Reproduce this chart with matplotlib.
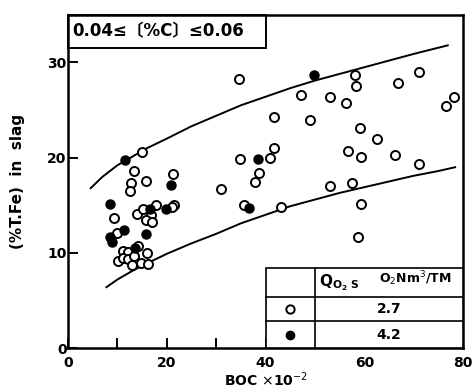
import numpy as np
import matplotlib.pyplot as plt
from matplotlib.patches import Rectangle

# open circles, Q = 2.7
open_x = [14.9, 13.3, 12.8, 12.6, 15.8, 21.3, 9.4, 13.9, 15.2, 17.9, 16.8, 15.8, 17.0,
          21.5, 21.0, 10.0, 11.1, 12.1, 14.1, 16.1, 10.1, 11.1, 12.2, 13.0, 14.7, 16.3, 13.3,
          34.6, 47.2, 53.0, 41.7, 49.1, 41.8, 40.9, 34.9, 38.6, 37.8, 30.9, 53.0, 35.6, 43.2,
          58.2, 58.3, 71.1, 66.9, 56.3, 78.1, 76.5, 59.1, 62.6, 56.8, 59.4, 66.2, 71.0,
          57.6, 59.4, 58.8]
open_y = [20.6, 18.6, 17.3, 16.5, 17.6, 18.3, 13.7, 14.1, 14.6, 15.0, 14.0, 13.5, 13.2,
          15.0, 14.8, 12.1, 10.2, 10.1, 10.7, 10.0, 9.2, 9.5, 9.4, 8.7, 8.9, 8.8, 9.7,
          28.3, 26.6, 26.4, 24.3, 24.0, 21.0, 20.0, 19.9, 18.4, 17.4, 16.7, 17.0, 15.0, 14.8,
          28.7, 27.5, 29.0, 27.8, 25.7, 26.4, 25.4, 23.1, 22.0, 20.7, 20.1, 20.3, 19.3,
          17.3, 15.1, 11.7]

# filled circles, Q = 4.2
fill_x = [11.5, 20.9, 8.6, 16.6, 19.9, 11.3, 8.5, 8.9, 15.9, 13.6, 49.8, 38.4, 36.6]
fill_y = [19.8, 17.1, 15.1, 14.6, 14.6, 12.4, 11.7, 11.1, 12.0, 10.5, 28.7, 19.9, 14.7]

# band limits
upper_x = [4.6, 7, 10, 13, 16, 20, 25, 30, 35, 40, 45, 50, 55, 60, 65, 70, 76.9]
upper_y = [16.8, 18.0, 19.2, 20.1, 21.0, 22.0, 23.3, 24.4, 25.5, 26.4, 27.3, 28.1, 28.8,
           29.5, 30.2, 30.9, 31.8]
lower_x = [7.8, 10, 13, 16, 20, 25, 30, 35, 40, 45, 50, 55, 60, 65, 70, 75, 78.4]
lower_y = [6.4, 7.2, 8.1, 8.9, 9.9, 11.0, 12.0, 13.1, 14.0, 14.9, 15.6, 16.3, 16.9,
           17.5, 18.1, 18.6, 19.0]

q_labels = ['2.7', '4.2']

bold = {'fontweight': 'bold', 'family': 'DejaVu Sans'}

fig = plt.figure(figsize=(4.72, 3.92), dpi=100)
ax = fig.add_axes([0.144, 0.112, 0.837, 0.85])

ax.plot(upper_x, upper_y, color='black', lw=1.4, zorder=2)
ax.plot(lower_x, lower_y, color='black', lw=1.4, zorder=2)

ax.plot(open_x, open_y, 'o', ms=6.5, mfc='white', mec='black', mew=1.4, zorder=3)
ax.plot(fill_x, fill_y, 'o', ms=6.5, mfc='black', mec='black', mew=1.0, zorder=4)

ax.set_xlim(0, 80)
ax.set_ylim(0, 35)
ax.set_xticks([0, 20, 40, 60, 80])
ax.set_xticks([10, 30, 50, 70], minor=True)
ax.set_yticks([0, 10, 20, 30])
ax.tick_params(which='both', direction='in', length=7, width=1.4)
ax.tick_params(axis='x', pad=6)
ax.tick_params(axis='y', pad=1)
for lab in ax.get_xticklabels() + ax.get_yticklabels():
    lab.set_fontweight('bold')
    lab.set_fontsize(10)
for s in ax.spines.values():
    s.set_linewidth(1.8)

ax.set_xlabel(r'BOC $\times$10$^{-2}$', fontsize=10, labelpad=0, **bold)
ax.set_ylabel('(%T.Fe)  in  slag', fontsize=11, labelpad=16, **bold)

# condition box, top left
ax.add_patch(Rectangle((0, 0.902), 0.5, 0.098, transform=ax.transAxes,
                       fill=False, lw=1.4, clip_on=False))
ax.text(0.012, 0.951, '0.04≤〔%C〕≤0.06', transform=ax.transAxes, va='center',
        fontsize=12, fontweight='bold', family=['DejaVu Sans', 'Noto Sans CJK JP'])

# legend table, bottom right
t_left, t_mid, t_right = 40, 50, 80
t_top, t_h1, t_h2 = 8.4, 5.4, 2.8
ax.add_patch(Rectangle((t_left, 0), t_right - t_left, t_top, facecolor='white',
                       edgecolor='black', lw=1.2, zorder=5))
ax.plot([t_mid, t_mid], [0, t_top], color='black', lw=1.2, zorder=6)
ax.plot([t_left, t_right], [t_h1, t_h1], color='black', lw=1.2, zorder=6)
ax.plot([t_left, t_right], [t_h2, t_h2], color='black', lw=1.2, zorder=6)
ax.text(50.8, 6.9, r'Q$_{\mathbf{O_2\ S}}$', fontsize=11, va='center', zorder=7, **bold)
ax.text(63, 7.3, r'O$_2$Nm$^3$/TM', fontsize=9, va='center', zorder=7, **bold)
ax.plot([45], [(t_h1 + t_h2) / 2], 'o', ms=6, mfc='white', mec='black', mew=1.4, zorder=7)
ax.plot([45], [t_h2 / 2], 'o', ms=6, mfc='black', mec='black', zorder=7)
ax.text(65, (t_h1 + t_h2) / 2, q_labels[0], ha='center', va='center', fontsize=10, zorder=7, **bold)
ax.text(65, t_h2 / 2, q_labels[1], ha='center', va='center', fontsize=10, zorder=7, **bold)

fig.savefig('out.png', dpi=100)
